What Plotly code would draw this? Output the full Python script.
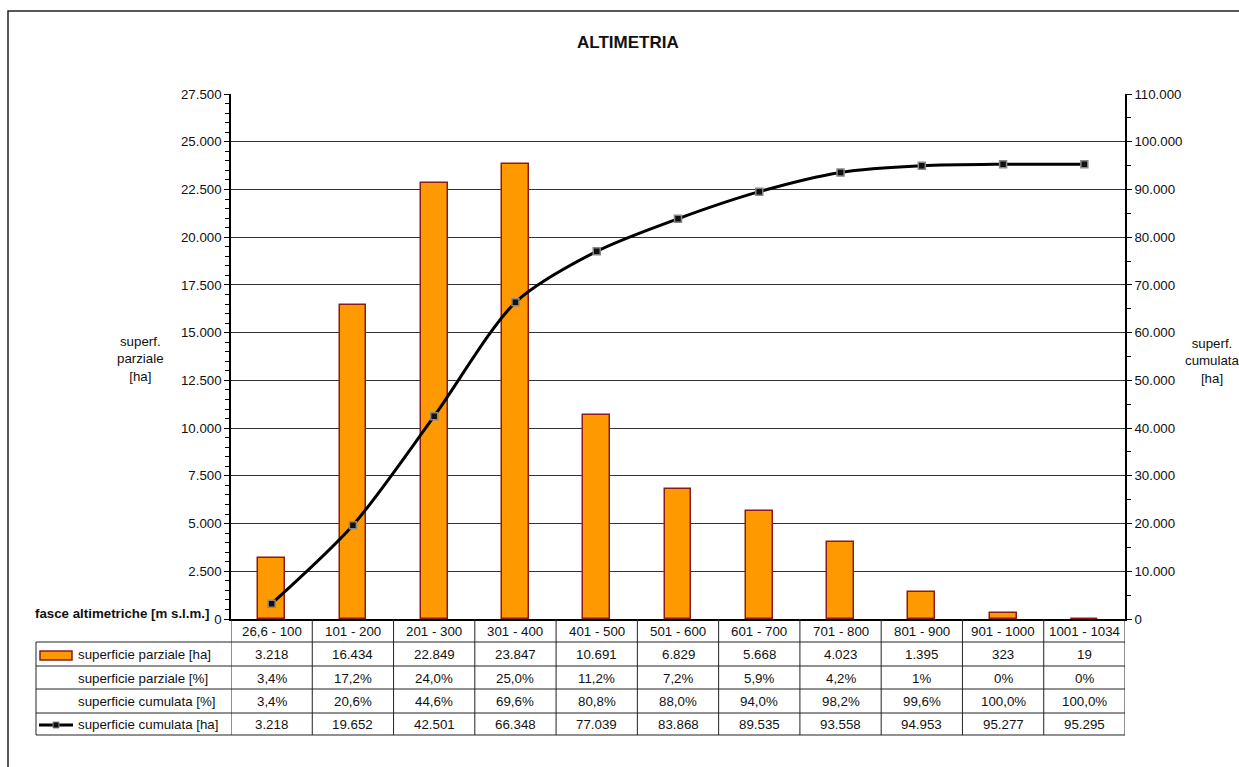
import plotly.graph_objects as go

# ---------------- data ----------------
categories = ["26,6 - 100", "101 - 200", "201 - 300", "301 - 400", "401 - 500",
              "501 - 600", "601 - 700", "701 - 800", "801 - 900", "901 - 1000",
              "1001 - 1034"]
sup_parziale_ha = [3218, 16434, 22849, 23847, 10691, 6829, 5668, 4023, 1395, 323, 19]
sup_parziale_pct = ["3,4%", "17,2%", "24,0%", "25,0%", "11,2%", "7,2%", "5,9%",
                    "4,2%", "1%", "0%", "0%"]
sup_cumulata_pct = ["3,4%", "20,6%", "44,6%", "69,6%", "80,8%", "88,0%", "94,0%",
                    "98,2%", "99,6%", "100,0%", "100,0%"]
sup_cumulata_ha = [3218, 19652, 42501, 66348, 77039, 83868, 89535, 93558, 94953, 95277, 95295]
row_labels = ["superficie parziale [ha]", "superficie parziale [%]",
              "superficie cumulata [%]", "superficie cumulata [ha]"]

# ---------------- layout geometry (pixels) ----------------
W, H = 1239, 767
L, R, T, B = 231, 1125, 94, 619
FONT = "Arial, Liberation Sans, sans-serif"
FS = 13.3
ORANGE = "#FF9900"
DARKRED = "#8B1A1A"
TXT = "#111111"


def py(p):  # pixel y -> paper y
    return (B - p) / (B - T)


def px(p):  # pixel x -> paper x
    return (p - L) / (R - L)


def fmt_int(v):
    return f"{v:,}".replace(",", ".")


fig = go.Figure()
fig.add_trace(go.Bar(
    x=categories, y=sup_parziale_ha, name=row_labels[0], width=0.33,
    marker=dict(color=ORANGE, line=dict(color=DARKRED, width=1.5)),
))
fig.add_trace(go.Scatter(
    x=categories, y=sup_cumulata_ha, name=row_labels[3], yaxis="y2",
    mode="lines+markers", line=dict(color="black", width=3, shape="spline", smoothing=0.8),
    marker=dict(symbol="square", size=7, color="#111111", line=dict(color="#888888", width=1.5)),
))

annotations = []
shapes = []


def txt(x, y, text, xref="paper", xanchor="center", size=FS):
    return dict(x=x, xref=xref, y=y, yref="paper", text=text, showarrow=False,
                xanchor=xanchor, yanchor="middle", font=dict(size=size, color=TXT))


# table rows (pixel centers) and lines
header_y = 631
row_centers = [654, 678, 701, 724]
h_lines = [642, 666, 689, 713, 735]
row_values = [[fmt_int(v) for v in sup_parziale_ha], sup_parziale_pct,
              sup_cumulata_pct, [fmt_int(v) for v in sup_cumulata_ha]]

for i, c in enumerate(categories):
    annotations.append(txt(c, py(header_y), c, xref="x"))
    for r, vals in enumerate(row_values):
        annotations.append(txt(c, py(row_centers[r]), vals[i], xref="x"))

for r, lab in enumerate(row_labels):
    annotations.append(txt(px(76), py(row_centers[r]), lab, xanchor="left"))

for hy in h_lines:
    shapes.append(dict(type="line", xref="paper", yref="paper", x0=px(36), x1=1,
                       y0=py(hy), y1=py(hy), line=dict(color="#222", width=1)))
for i in range(len(categories) + 1):
    shapes.append(dict(type="line", xref="x", yref="paper", x0=i - 0.5, x1=i - 0.5,
                       y0=py(B), y1=py(735), line=dict(color="#222", width=1)))
shapes.append(dict(type="line", xref="paper", yref="paper", x0=px(36), x1=px(36),
                   y0=py(642), y1=py(735), line=dict(color="#222", width=1)))

# legend keys inside table
shapes.append(dict(type="rect", xref="paper", yref="paper", x0=px(40), x1=px(72),
                   y0=py(651), y1=py(660), fillcolor=ORANGE,
                   line=dict(color=DARKRED, width=1.5)))
shapes.append(dict(type="line", xref="paper", yref="paper", x0=px(39), x1=px(73),
                   y0=py(725), y1=py(725), line=dict(color="black", width=3)))
shapes.append(dict(type="rect", xref="paper", yref="paper", x0=px(53), x1=px(59),
                   y0=py(722), y1=py(728), fillcolor="#111111",
                   line=dict(color="#888888", width=1)))

# outer chart border
shapes.append(dict(type="rect", xref="paper", yref="paper", x0=px(8), x1=px(1300),
                   y0=py(11), y1=py(800), line=dict(color="#222", width=1.5),
                   fillcolor="rgba(0,0,0,0)", layer="below"))

# titles
annotations.append(txt(px(628), py(42), "<b>ALTIMETRIA</b>", size=17))
annotations.append(txt(px(33), py(613), "<b>fasce altimetriche [m s.l.m.]</b>",
                       xanchor="left", size=13.3))
annotations.append(txt(px(140), py(359), "superf.<br>parziale<br>[ha]"))
annotations.append(txt(px(1212), py(361), "superf.<br>cumulata<br>[ha]"))

fig.update_layout(
    width=W, height=H,
    margin=dict(l=L, r=W - R, t=T, b=H - B, pad=0),
    paper_bgcolor="white", plot_bgcolor="white",
    separators=",.",
    showlegend=False,
    font=dict(family=FONT, size=FS, color=TXT),
    bargap=0,
    xaxis=dict(range=[-0.5, 10.5], showticklabels=False, ticks="",
               showline=True, linecolor="black", linewidth=1.5, showgrid=False,
               zeroline=False, fixedrange=True),
    yaxis=dict(range=[0, 27500], dtick=2500, tickformat=",.0f", ticks="outside",
               ticklen=5, tickcolor="black", showline=True, linecolor="black",
               linewidth=1.5, showgrid=True, gridcolor="#333", gridwidth=1,
               zeroline=False, tickfont=dict(size=FS, color=TXT),
               minor=dict(dtick=500, ticks="outside", ticklen=4, tickcolor="black",
                          showgrid=False)),
    yaxis2=dict(range=[0, 110000], dtick=10000, tickformat=",.0f", ticks="outside",
                ticklen=5, tickcolor="black", overlaying="y", side="right",
                showline=True, linecolor="black", linewidth=1.5, showgrid=False,
                zeroline=False, tickfont=dict(size=FS, color=TXT),
                minor=dict(dtick=5000, ticks="outside", ticklen=4, tickcolor="black",
                           showgrid=False)),
    annotations=annotations,
    shapes=shapes,
)

fig.write_html("out.html", config={"displayModeBar": False},
               post_script="document.body.style.margin='0';")
